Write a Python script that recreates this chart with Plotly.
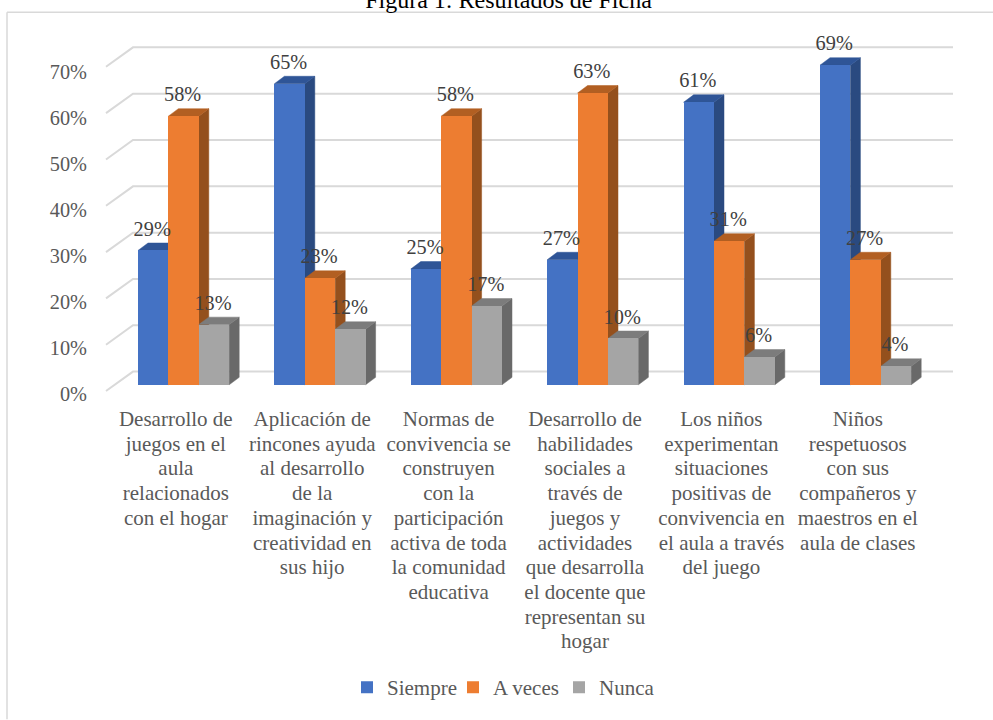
import plotly.graph_objects as go

categories = [
    "Desarrollo de<br>juegos en el<br>aula<br>relacionados<br>con el hogar",
    "Aplicación de<br>rincones ayuda<br>al desarrollo<br>de la<br>imaginación y<br>creatividad en<br>sus hijo",
    "Normas de<br>convivencia se<br>construyen<br>con la<br>participación<br>activa de toda<br>la comunidad<br>educativa",
    "Desarrollo de<br>habilidades<br>sociales a<br>través de<br>juegos y<br>actividades<br>que desarrolla<br>el docente que<br>representan su<br>hogar",
    "Los niños<br>experimentan<br>situaciones<br>positivas de<br>convivencia en<br>el aula a través<br>del juego",
    "Niños<br>respetuosos<br>con sus<br>compañeros y<br>maestros en el<br>aula de clases",
]
siempre = [29, 65, 25, 27, 61, 69]
a_veces = [58, 23, 58, 63, 31, 27]
nunca = [13, 12, 17, 10, 6, 4]
y_ticks = [0, 10, 20, 30, 40, 50, 60, 70]
series = [
    ("Siempre", siempre, "#4472C4", "#2A4A80", "#2F5597"),
    ("A veces", a_veces, "#ED7D31", "#94501D", "#B25F22"),
    ("Nunca", nunca, "#A5A5A5", "#696969", "#7C7C7C"),
]

# pixel geometry of the drawing
PX_X0, PX_STEP, PX_BAR = 138.0, 136.4, 30.4
PX_Y0, PX_UNIT = 387.7, 4.67
L, R, T, B = 90, 960, 30, 398
W, H = 993, 720
to_x = lambda px: (px - PX_X0) / PX_STEP
to_y = lambda px: (PX_Y0 - px) / PX_UNIT
bw = PX_BAR / PX_STEP
dx, dy = 10 / PX_STEP, 7.5 / PX_UNIT
front_dy = to_y(394)
back_dy = to_y(374.4)
n = len(categories)
SERIF = "Liberation Serif"


def wide_lines(label):
    # glyphs are wider than the line spacing of the base size suggests
    return "<br>".join(f'<span style="font-size:21px">{t}</span>' for t in label.split("<br>"))


fig = go.Figure()

# gridlines: front tick -> back wall -> right end
gx, gy = [], []
for v in y_ticks:
    gx += [to_x(106), to_x(133), to_x(953), None]
    gy += [v + front_dy, v + back_dy, v + back_dy, None]
fig.add_trace(go.Scatter(x=gx, y=gy, mode="lines", line=dict(color="#D9D9D9", width=2),
                         showlegend=False, hoverinfo="skip", zorder=0))

z = 1
for s, (name, vals, col, side, top) in enumerate(series):
    left = [i + s * bw for i in range(n)]
    sx, sy, tx, ty = [], [], [], []
    for x0, v in zip(left, vals):
        x1 = x0 + bw
        sx += [x1, x1 + dx, x1 + dx, x1, x1, None]
        sy += [0, dy, v + dy, v, 0, None]
        tx += [x0, x0 + dx, x1 + dx, x1, x0, None]
        ty += [v, v + dy, v + dy, v, v, None]
    for px, py, c in ((sx, sy, side), (tx, ty, top)):
        fig.add_trace(go.Scatter(x=px, y=py, mode="lines", fill="toself", fillcolor=c,
                                 line=dict(color=c, width=0.5), showlegend=False,
                                 hoverinfo="skip", zorder=z))
    z += 1
    fig.add_trace(go.Bar(x=[x + bw / 2 for x in left], y=vals, width=bw, name=name,
                         marker=dict(color=col, line=dict(width=0)), zorder=z))
    z += 1

for s, (name, vals, *_rest) in enumerate(series):
    fig.add_trace(go.Scatter(
        x=[i + (s + 0.5) * bw - 1 / PX_STEP for i in range(n)],
        y=[v + 20 / PX_UNIT for v in vals],
        mode="text", text=[f"{v}%" for v in vals], textposition="middle center",
        textfont=dict(family=SERIF, size=20.3, color="#404040"),
        showlegend=False, hoverinfo="skip", zorder=20))

# chart frame (runs off the right and bottom of the picture)
pw, ph = R - L, B - T
fx = lambda px: (px - L) / pw
fy = lambda py: (B - py) / ph
fig.add_shape(type="line", xref="paper", yref="paper", x0=fx(7), x1=fx(7), y0=fy(12), y1=fy(725),
              line=dict(color="#D9D9D9", width=1.5), layer="below")
fig.add_shape(type="line", xref="paper", yref="paper", x0=fx(7), x1=fx(1000), y0=fy(12), y1=fy(12),
              line=dict(color="#D9D9D9", width=1.5), layer="below")

fig.update_layout(
    width=W, height=H, margin=dict(l=L, r=W - R, t=T, b=H - B),
    paper_bgcolor="white", plot_bgcolor="rgba(0,0,0,0)",
    font=dict(family=SERIF, size=19, color="#595959"),
    title=dict(text="Figura 1: Resultados de Ficha", x=(508.5) / W, xanchor="center", y=1 - 0 / H, yanchor="middle",
               font=dict(family=SERIF, size=24, color="#000000")),
    barmode="overlay", bargap=0,
    showlegend=True,
    legend=dict(orientation="h", x=fx(347), xanchor="left", y=fy(693), yanchor="middle",
                entrywidth=61, entrywidthmode="pixels",
                font=dict(size=21, color="#595959"), bgcolor="rgba(0,0,0,0)", traceorder="normal"),
    xaxis=dict(range=[to_x(L), to_x(R)], showgrid=False, zeroline=False, showline=False,
               tickmode="array", tickvals=[i + to_x(175.8) for i in range(n)],
               ticktext=[wide_lines(c) for c in categories],
               tickangle=0, ticks="", ticklen=0, ticklabelstandoff=11, automargin=False, fixedrange=True),
    yaxis=dict(range=[to_y(B), to_y(T)], showgrid=False, zeroline=False, showline=False,
               tickmode="array", tickvals=[v * 0.994 + to_y(397) for v in y_ticks],
               ticktext=[f"{v}%" for v in y_ticks], ticks="", ticklabelstandoff=2,
               tickfont=dict(size=20.3), automargin=False, fixedrange=True),
)
fig.write_html("out.html", config={"displayModeBar": False},
               post_script="document.body.style.margin='0';")
